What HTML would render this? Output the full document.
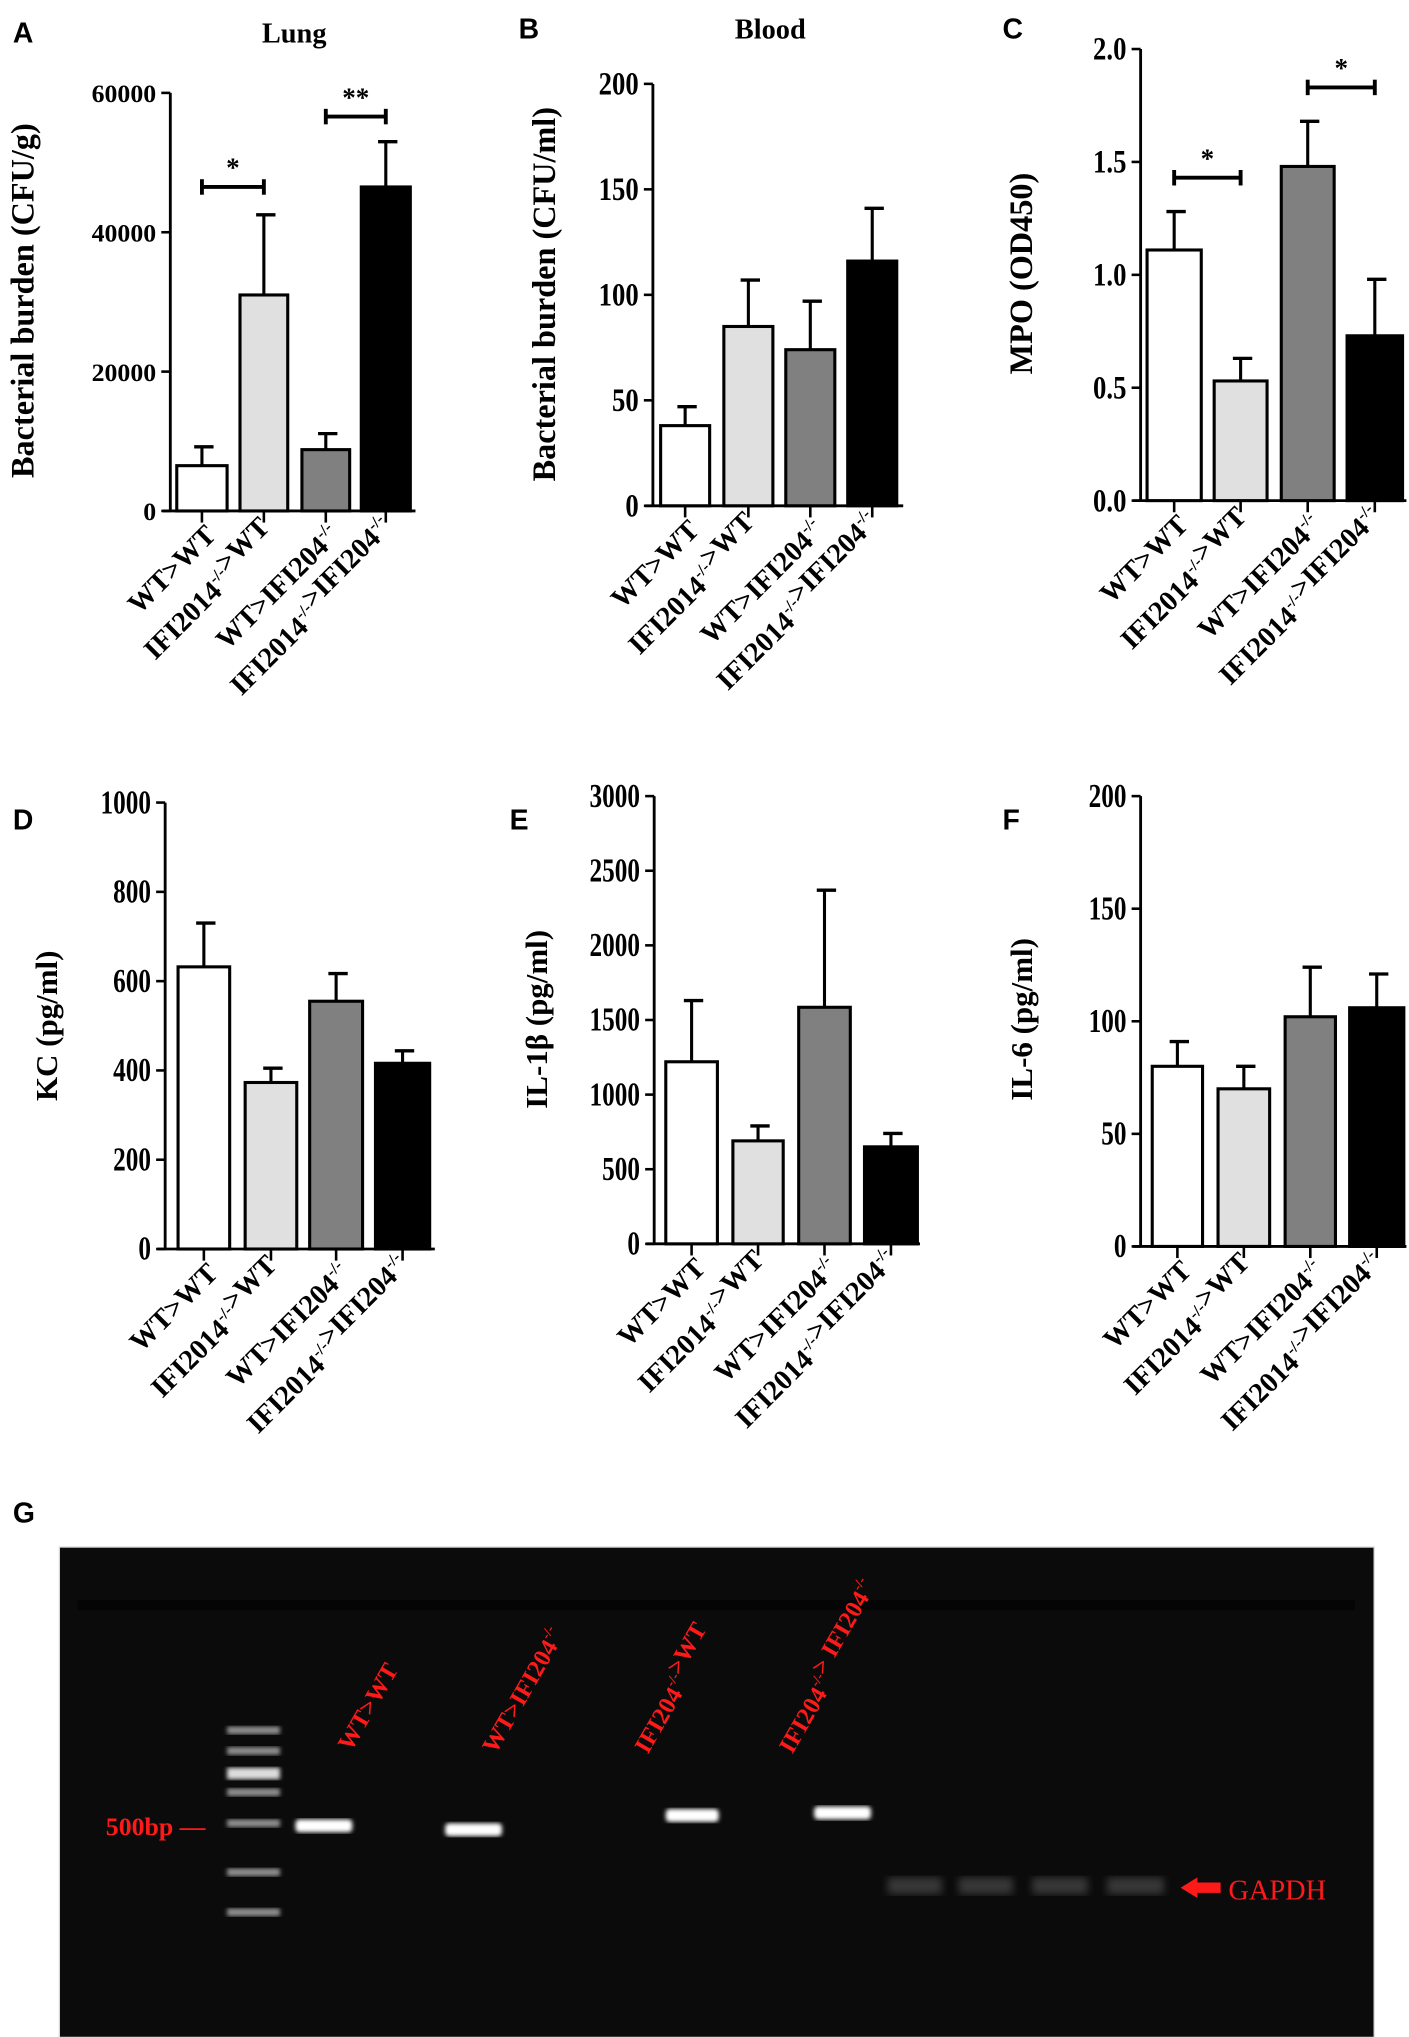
<!DOCTYPE html>
<html><head><meta charset="utf-8"><style>
html,body{margin:0;padding:0;background:#fff;}
svg{display:block;}
.t{font-family:"Liberation Serif",serif;font-weight:bold;fill:#000;}
.s{font-family:"Liberation Sans",sans-serif;font-weight:bold;fill:#000;}
</style></head><body>
<svg id="fig" width="1409" height="2037" viewBox="0 0 1092 1578.7" preserveAspectRatio="none" xmlns="http://www.w3.org/2000/svg">
<defs>
<filter id="blur2"><feGaussianBlur stdDeviation="1.6"/></filter>
<filter id="blur4"><feGaussianBlur stdDeviation="3"/></filter>
</defs>
</svg>
<script>
const categories = ["WT>WT","IFI2014-/->WT","WT>IFI204-/-","IFI2014-/->IFI204-/-"];
const lungMeans = [6500, 31000, 8800, 46500];
const lungErrs = [2700, 11500, 2300, 6500];
const lungTicks = [0, 20000, 40000, 60000];
const bloodMeans = [38, 85, 74, 116];
const bloodErrs = [9, 22, 23, 25];
const bloodTicks = [0, 50, 100, 150, 200];
const mpoMeans = [1.11, 0.53, 1.48, 0.73];
const mpoErrs = [0.17, 0.10, 0.20, 0.25];
const mpoTicks = ["0.0","0.5","1.0","1.5","2.0"];
const kcMeans = [632, 373, 555, 416];
const kcErrs = [98, 32, 62, 28];
const kcTicks = [0, 200, 400, 600, 800, 1000];
const il1Means = [1220, 690, 1585, 650];
const il1Errs = [410, 100, 785, 90];
const il1Ticks = [0, 500, 1000, 1500, 2000, 2500, 3000];
const il6Means = [80, 70, 102, 106];
const il6Errs = [11, 10, 22, 15];
const il6Ticks = [0, 50, 100, 150, 200];
const fills = ["#ffffff","#e0e0e0","#808080","#000000"];

const NS = "http://www.w3.org/2000/svg";
const svg = document.getElementById("fig");
function mk(tag, attrs, parent){
  const e = document.createElementNS(NS, tag);
  for (const k in attrs) e.setAttribute(k, attrs[k]);
  (parent||svg).appendChild(e);
  return e;
}
function addLabel(parent, text, supSize){
  const parts = text.split("-/-");
  parts.forEach((pt, j) => {
    const s = mk("tspan", {}, parent);
    s.textContent = pt;
    if (j < parts.length-1){
      const sup = mk("tspan", {"font-size":supSize, dy:-9}, parent);
      sup.textContent = "-/-";
      const back = mk("tspan", {dy:9}, parent);
      back.textContent = "";
    }
  });
}

function panel(p){
  const g = mk("g", {});
  
  
  const ymax = p.ymax;
  const y = v => p.y0 - (v / ymax) * (p.y0 - p.ytop);
  const ax = mk("line", {x1:p.ax, y1:p.ytop, x2:p.ax, y2:p.y0, stroke:"#000","stroke-width":2.2}, g);
  
  
  const bx = mk("line", {x1:p.ax-6, y1:p.y0, x2:p.xend, y2:p.y0, stroke:"#000","stroke-width":2.2}, g);
  
  
  p.ticks.forEach(tv => {
    const v = parseFloat(tv);
    const yy = y(v);
    const tl = mk("line", {x1:p.ax-7, y1:yy, x2:p.ax, y2:yy, stroke:"#000","stroke-width":2}, g);
    
    
    const tx = mk("text", {x:0, y:0, "text-anchor":"end", "font-size":p.tfs, class:"t",
      transform:`translate(${p.ax-11},${yy+p.tfs*0.36}) scale(${p.sx||1},${p.sy||1})`}, g);
    
    
    tx.textContent = tv;
  });
  p.means.forEach((m, i) => {
    const x1 = p.bars[i][0], x2 = p.bars[i][1], cx = (x1+x2)/2;
    const top = y(m), et = y(m + p.errs[i]);
    const el = mk("line", {x1:cx, y1:top, x2:cx, y2:et, stroke:"#000","stroke-width":2.4}, g);
    
    
    const ec = mk("line", {x1:cx-6, y1:et, x2:cx+9, y2:et, stroke:"#000","stroke-width":2.6}, g);
    
    
    const r = mk("rect", {x:x1, y:top, width:x2-x1, height:p.y0-top, fill:fills[i], stroke:"#000","stroke-width":2.4}, g);
    
    
    const tk = mk("line", {x1:cx, y1:p.y0, x2:cx, y2:p.y0+9, stroke:"#000","stroke-width":2}, g);
    
    
    const lx = cx+12, ly = p.y0+20;
    const lab = mk("text", {x:lx, y:ly, "text-anchor":"end", "font-size":22, class:"t", transform:`rotate(-45 ${lx} ${ly})`}, g);
    
    
    addLabel(lab, categories[i], 13);
  });
  const tt = mk("text", {x:p.tx, y:p.ty, "text-anchor":"middle", "font-size":p.tts||25, class:"t", transform:`rotate(-90 ${p.tx} ${p.ty})`}, g);
  
  
  tt.textContent = p.title;
  const lt = mk("text", {x:p.lx, y:p.ly, "font-size":22, class:"s"}, g);
  
  
  lt.textContent = p.letter;
  if (p.head){
    const h = mk("text", {x:p.hx, y:p.ly, "text-anchor":"middle","font-size":22, class:"t"}, g);
    
    
    h.textContent = p.head;
  }
  (p.sig||[]).forEach(sg => {
    const yy = y(sg.v);
    const a = p.bars[sg.a], b = p.bars[sg.b];
    const xa = (a[0]+a[1])/2, xb = (b[0]+b[1])/2;
    const ln = mk("line", {x1:xa, y1:yy, x2:xb, y2:yy, stroke:"#000","stroke-width":3}, g);
    
    
    mk("line", {x1:xa, y1:yy-6, x2:xa, y2:yy+6, stroke:"#000","stroke-width":3}, g);
    mk("line", {x1:xb, y1:yy-6, x2:xb, y2:yy+6, stroke:"#000","stroke-width":3}, g);
    const st = mk("text", {x:(xa+xb)/2, y:yy-8, "text-anchor":"middle","font-size":21, class:"t"}, g);
    
    
    st.textContent = sg.t;
  });
}

panel({name:"panel-a-lung", letter:"A", lx:10, ly:33, head:"Lung", hx:228, ax:132, y0:396, ytop:72, ymax:60000, xend:322,
  ticks:lungTicks.map(String), tfs:20, means:lungMeans, errs:lungErrs,
  bars:[[137,176],[186,223],[234,271],[280,318]], title:"Bacterial burden (CFU/g)", tx:26, ty:233,
  sig:[{a:0,b:1,v:46500,t:"*"},{a:2,b:3,v:56600,t:"**"}]});
panel({name:"panel-b-blood", letter:"B", lx:402, ly:30, head:"Blood", hx:597, ax:506, y0:392, ytop:65, ymax:200, xend:700,
  ticks:bloodTicks.map(String), tfs:23, sx:0.9, sy:1.1, means:bloodMeans, errs:bloodErrs,
  bars:[[512,550],[561,599],[609,647],[657,695]], title:"Bacterial burden (CFU/ml)", tx:430, ty:228});
panel({name:"panel-c-mpo", letter:"C", lx:777, ly:30, ax:884, y0:388, ytop:38, ymax:2.0, xend:1090,
  ticks:mpoTicks, tfs:23, sx:0.9, sy:1.1, means:mpoMeans, errs:mpoErrs,
  bars:[[889,931],[941,982],[993,1034],[1044,1087]], title:"MPO (OD450)", tx:800, ty:212,
  sig:[{a:0,b:1,v:1.43,t:"*"},{a:2,b:3,v:1.83,t:"*"}]});
panel({name:"panel-d-kc", letter:"D", lx:10, ly:643, ax:128, y0:968, ytop:622, ymax:1000, xend:337,
  ticks:kcTicks.map(String), tfs:23, sx:0.85, sy:1.15, means:kcMeans, errs:kcErrs,
  bars:[[138,178],[190,230],[240,281],[291,333]], title:"KC (pg/ml)", tx:44, ty:795, tts:24});
panel({name:"panel-e-il1b", letter:"E", lx:395, ly:643, ax:507, y0:964, ytop:617, ymax:3000, xend:713,
  ticks:il1Ticks.map(String), tfs:23, sx:0.85, sy:1.15, means:il1Means, errs:il1Errs,
  bars:[[516,556],[568,607],[619,659],[670,711]], title:"IL-1β (pg/ml)", tx:424, ty:790, tts:24});
panel({name:"panel-f-il6", letter:"F", lx:777, ly:643, ax:884, y0:966, ytop:617, ymax:200, xend:1090,
  ticks:il6Ticks.map(String), tfs:23, sx:0.85, sy:1.15, means:il6Means, errs:il6Errs,
  bars:[[893,932],[944,984],[996,1035],[1046,1088]], title:"IL-6 (pg/ml)", tx:800, ty:790, tts:24});

const gl = mk("text", {x:10, y:1180, "font-size":22, class:"s"});


gl.textContent = "G";
const gel = mk("g", {});


mk("rect", {x:46, y:1199, width:1019, height:380, fill:"#0b0b0b", stroke:"#d8d8d8", "stroke-width":1}, gel);
mk("rect", {x:60, y:1240, width:990, height:8, fill:"#000", opacity:0.5}, gel);
const ladderY = [1341, 1357, 1373, 1389, 1413, 1451, 1482];
ladderY.forEach((yy,i) => {
  const b = mk("rect", {x:176, y:yy-3, width:41, height:i==2?9:6, fill:"#e8e8e8", opacity:i==2?0.95:0.6, filter:"url(#blur2)"}, gel);
  
  
});
const sampleBands = [[229,273,1415],[345,389,1418],[516,557,1407],[631,675,1405]];
sampleBands.forEach(s => {
  const b = mk("rect", {x:s[0], y:s[2]-5, width:s[1]-s[0], height:10, rx:3, fill:"#fff", filter:"url(#blur2)"}, gel);
  
  
});
[[688,730],[743,785],[800,843],[858,902]].forEach(s => {
  const b = mk("rect", {x:s[0], y:1455, width:s[1]-s[0], height:13, fill:"#555", opacity:0.6, filter:"url(#blur4)"}, gel);
  
  
});
const red = "#ff1a1a";
const bp = mk("text", {x:82, y:1422, "font-size":20, fill:red, "font-family":"Liberation Serif, serif", "font-weight":"bold"}, gel);


bp.textContent = "500bp —";
mk("path", {d:"M915 1463 L928 1455 L928 1459 L946 1459 L946 1467 L928 1467 L928 1471 Z", fill:red}, gel);
const gp = mk("text", {x:952, y:1472, "font-size":22, fill:red, "font-family":"Liberation Serif, serif"}, gel);


gp.textContent = "GAPDH";
const laneLabels = [["WT>WT",272,1358],["WT>IFI204-/-",384,1360],["IFI204-/->WT",502,1360],["IFI204-/-> IFI204-/-",614,1360]];
laneLabels.forEach(l => {
  const t = mk("text", {x:l[1], y:l[2], "font-size":19, fill:red, "font-family":"Liberation Serif, serif", "font-weight":"bold", transform:`rotate(-60 ${l[1]} ${l[2]})`}, gel);
  
  
  addLabel(t, l[0], 11);
});
</script>
</body></html>
